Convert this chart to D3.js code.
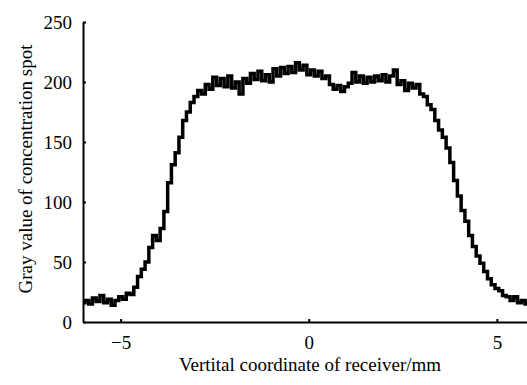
<!DOCTYPE html>
<html>
<head>
<meta charset="utf-8">
<script src="https://cdn.jsdelivr.net/npm/d3@7"></script>
<style>
    body { margin: 0; background: #fff; }
    svg { display: block; }
</style>
</head>
<body>
<svg id="chart"></svg>
<script>
// receiver coordinate (mm), one sample every 0.1 mm from -6.0 to 5.8
const xStart = -6.0;
const xStep = 0.1;
// gray value
const grayValues = [
    16, 18, 15, 20, 17, 22, 16, 19, 14, 18,
    21, 19, 24, 23, 29, 38, 44, 50, 62, 72,
    68, 78, 92, 116, 131, 141, 154, 168, 175, 183,
    188, 193, 190, 198, 194, 204, 197, 203, 196, 205,
    195, 200, 190, 203, 199, 207, 202, 209, 201, 206,
    200, 211, 205, 212, 207, 213, 208, 216, 210, 214,
    206, 210, 205, 209, 203, 205, 198, 194, 197, 192,
    196, 199, 208, 200, 205, 199, 204, 200, 205, 201,
    206, 200, 205, 210, 198, 201, 193, 199, 195, 198,
    190, 188, 181, 177, 168, 160, 154, 145, 133, 118,
    105, 93, 84, 72, 63, 55, 49, 42, 36, 31,
    28, 26, 22, 21, 18, 21, 16, 18, 15, 19,
    17
];
const xTicks = [-5, 0, 5];
const yTicks = [0, 50, 100, 150, 200, 250];
const xLabel = "Vertital coordinate of receiver/mm";
const yLabel = "Gray value of concentration spot";

const serif = "'Liberation Serif', 'Times New Roman', serif";

const points = grayValues.map((v, i) => ({ x: +(xStart + i * xStep).toFixed(1), y: v }));

const width = 527, height = 385;
const margin = { top: 22, right: 0, bottom: 63, left: 83 };
const innerWidth = width - margin.left - margin.right;
const innerHeight = height - margin.top - margin.bottom;

const svg = d3.select("#chart")
    .attr("width", width)
    .attr("height", height);

const chart = svg.append("g")
    .attr("transform", `translate(${margin.left}, ${margin.top})`);

const xscale = d3.scaleLinear()
    .domain([-6.0, 5.8])
    .range([0, innerWidth]);

const yscale = d3.scaleLinear()
    .domain([0, 250])
    .range([innerHeight, 0]);

// the curve
const line = d3.line()
    .x(d => xscale(d.x))
    .y(d => yscale(d.y))
    .curve(d3.curveStep);

chart.append("path")
    .datum(points)
    .attr("fill", "none")
    .attr("stroke", "#000")
    .attr("stroke-width", 3.5)
    .attr("d", line);

// axes, small ticks pointing inwards
const xaxis = d3.axisBottom(xscale)
    .tickValues(xTicks)
    .tickSizeInner(-3)
    .tickSizeOuter(0)
    .tickPadding(14);

const yaxis = d3.axisLeft(yscale)
    .tickValues(yTicks)
    .tickSizeInner(-3)
    .tickSizeOuter(0)
    .tickPadding(11);

const xaxisGroup = chart.append("g")
    .attr("transform", `translate(0, ${innerHeight})`)
    .call(xaxis);

const yaxisGroup = chart.append("g")
    .call(yaxis);

[xaxisGroup, yaxisGroup].forEach(g => {
    g.attr("font-family", serif).attr("font-size", 19);
    g.select(".domain").attr("stroke", "#000").attr("stroke-width", 2);
    g.selectAll(".tick line").attr("stroke", "#000").attr("stroke-width", 2);
    g.selectAll(".tick text")
        .attr("fill", "#000")
        .attr("font-family", serif)
        .attr("font-size", 19);
});

// axis titles
svg.append("text")
    .attr("x", 310)
    .attr("y", 371)
    .attr("text-anchor", "middle")
    .attr("font-family", serif)
    .attr("font-size", 19)
    .attr("fill", "#000")
    .text(xLabel);

svg.append("text")
    .attr("transform", "translate(32, 169) rotate(-90)")
    .attr("text-anchor", "middle")
    .attr("font-family", serif)
    .attr("font-size", 19)
    .attr("fill", "#000")
    .text(yLabel);
</script>
</body>
</html>
